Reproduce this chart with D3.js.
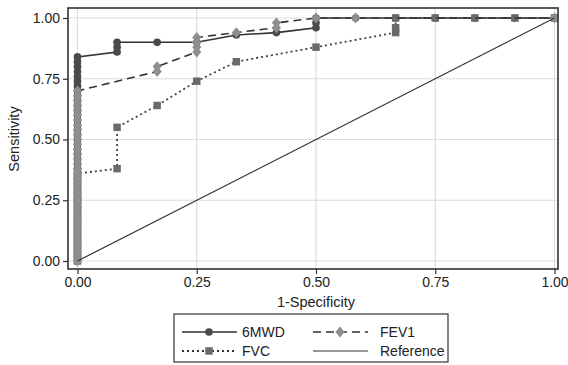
<!DOCTYPE html>
<html><head><meta charset="utf-8">
<script src="https://cdn.jsdelivr.net/npm/d3@7"></script>
<style>body{margin:0;background:#fff}svg{display:block}text{font-family:"Liberation Sans",Arial,sans-serif;fill:#222}</style>
</head><body><svg id="c" width="568" height="365"></svg>
<script>
const ticks = [0, 0.25, 0.5, 0.75, 1];
const tickLabels = ["0.00", "0.25", "0.50", "0.75", "1.00"];

const mwdX = [0,0,0,0,0,0,0,0,0,0,0,0,0,0,0,0,0,0,0,0,0,0,0,0,0,0,0,0,0,0,0,0,0,0,0,0,0,0,0,0,0,0,0,
  0.083,0.083,0.083,0.167,0.25,0.333,0.417,0.5,0.5,0.5,0.583,0.667,0.75,0.833,0.917,1];
const mwdY = [0,0.02,0.04,0.06,0.08,0.10,0.12,0.14,0.16,0.18,0.20,0.22,0.24,0.26,0.28,0.30,0.32,0.34,0.36,0.38,0.40,0.42,0.44,0.46,0.48,0.50,0.52,0.54,0.56,0.58,0.60,0.62,0.64,0.66,0.68,0.70,0.72,0.74,0.76,0.78,0.80,0.82,0.84,
  0.86,0.88,0.90,0.90,0.90,0.93,0.94,0.96,0.98,1,1,1,1,1,1,1];

const fevX = [0,0,0,0,0,0,0,0,0,0,0,0,0,0,0,0,0,0,0,0,0,0,0,0,0,0,0,0,0,0,0,0,0,0,0,0,
  0.167,0.167,0.25,0.25,0.25,0.25,0.333,0.417,0.417,0.5,0.583,1];
const fevY = [0,0.02,0.04,0.06,0.08,0.10,0.12,0.14,0.16,0.18,0.20,0.22,0.24,0.26,0.28,0.30,0.32,0.34,0.36,0.38,0.40,0.42,0.44,0.46,0.48,0.50,0.52,0.54,0.56,0.58,0.60,0.62,0.64,0.66,0.68,0.70,
  0.78,0.80,0.86,0.88,0.90,0.92,0.94,0.96,0.98,1,1,1];

const fvcX = [0,0,0,0,0,0,0,0,0,0,0,0,0,0,0,0,0,0,0,
  0.083,0.083,0.167,0.25,0.333,0.5,0.667,0.667,0.667,0.75,0.833,0.917,1];
const fvcY = [0,0.02,0.04,0.06,0.08,0.10,0.12,0.14,0.16,0.18,0.20,0.22,0.24,0.26,0.28,0.30,0.32,0.34,0.36,
  0.38,0.55,0.64,0.74,0.82,0.88,0.94,0.96,1,1,1,1,1];

const refX = [0, 1];
const refY = [0, 1];

const svg = d3.select("#c");
const x = d3.scaleLinear().domain([0, 1]).range([77.5, 554.5]);
const y = d3.scaleLinear().domain([0, 1]).range([261, 18]);
const frame = {l: 68, r: 558, t: 8, b: 269};

// grid
svg.append("g").selectAll("line").data(ticks).join("line")
  .attr("x1", d => x(d)).attr("x2", d => x(d)).attr("y1", frame.t).attr("y2", frame.b)
  .attr("stroke", "#dcdcdc").attr("stroke-width", 1.2);
svg.append("g").selectAll("line").data(ticks).join("line")
  .attr("x1", frame.l).attr("x2", frame.r).attr("y1", d => y(d)).attr("y2", d => y(d))
  .attr("stroke", "#dcdcdc").attr("stroke-width", 1.2);

// axes
const xAxis = d3.axisBottom(x).tickValues(ticks).tickFormat((d, i) => tickLabels[i]).tickSize(5).tickPadding(3);
const gx = svg.append("g").attr("transform", `translate(0,${frame.b})`).call(xAxis);
const yAxis = d3.axisLeft(y).tickValues(ticks).tickFormat((d, i) => tickLabels[i]).tickSize(5).tickPadding(3);
const gy = svg.append("g").attr("transform", `translate(${frame.l},0)`).call(yAxis);
[gx, gy].forEach(g => {
  g.select(".domain").remove();
  g.selectAll(".tick line").attr("stroke", "#333").attr("stroke-width", 1.2);
  g.selectAll(".tick text").attr("font-size", 14).attr("fill", "#222")
   .style("font-family", '"Liberation Sans",Arial,sans-serif');
});

// titles
svg.append("text").attr("x", 316).attr("y", 307).attr("text-anchor", "middle").attr("font-size", 14.5).text("1-Specificity");
svg.append("text").attr("transform", "translate(19,139) rotate(-90)").attr("text-anchor", "middle").attr("font-size", 14.5).text("Sensitivity");

const line = d3.line().x(d => x(d[0])).y(d => y(d[1]));
const zipP = (a, b) => a.map((v, i) => [v, b[i]]);
const mwd = zipP(mwdX, mwdY), fev = zipP(fevX, fevY), fvc = zipP(fvcX, fvcY), ref = zipP(refX, refY);

const sqSym = d3.symbol().type(d3.symbolSquare).size(56);
const diSym = d3.symbol().type(d3.symbolDiamond2).size(62);
const ciSym = d3.symbol().type(d3.symbolCircle).size(46);
const diScale = " scale(0.92,1.1)";

// 6MWD
svg.append("path").attr("d", line(mwd)).attr("fill", "none").attr("stroke", "#333").attr("stroke-width", 1.6);
svg.append("g").selectAll("path").data(mwd).join("path")
  .attr("transform", d => `translate(${x(d[0])},${y(d[1])})`).attr("d", ciSym).attr("fill", "#4a4a4a");

// FVC
svg.append("path").attr("d", line(fvc)).attr("fill", "none").attr("stroke", "#444").attr("stroke-width", 1.8).attr("stroke-dasharray", "2,3");
svg.append("g").selectAll("path").data(fvc).join("path")
  .attr("transform", d => `translate(${x(d[0])},${y(d[1])})`).attr("d", sqSym).attr("fill", "#6a6a6a");

// FEV1
svg.append("path").attr("d", line(fev)).attr("fill", "none").attr("stroke", "#333").attr("stroke-width", 1.6).attr("stroke-dasharray", "8,5");
svg.append("g").selectAll("path").data(fev).join("path")
  .attr("transform", d => `translate(${x(d[0])},${y(d[1])})` + diScale).attr("d", diSym).attr("fill", "#8e8e8e");

// reference
svg.append("path").attr("d", line(ref)).attr("fill", "none").attr("stroke", "#333").attr("stroke-width", 1.2);

// frame
svg.append("rect").attr("x", frame.l).attr("y", frame.t)
  .attr("width", frame.r - frame.l).attr("height", frame.b - frame.t)
  .attr("fill", "none").attr("stroke", "#333").attr("stroke-width", 1.6);

// legend
const lg = svg.append("g");
lg.append("rect").attr("x", 174).attr("y", 314).attr("width", 274).attr("height", 48)
  .attr("fill", "#fff").attr("stroke", "#333").attr("stroke-width", 1.2);
const legendItems = [
  {name: "6MWD", cx: 182, tx: 242, cy: 332, dash: null, sym: ciSym, fill: "#4a4a4a", sw: 1.6},
  {name: "FEV1", cx: 313, tx: 380, cy: 332, dash: "8,5", sym: diSym, fill: "#8e8e8e", sw: 1.6, diamond: true},
  {name: "FVC", cx: 182, tx: 242, cy: 351, dash: "2,3", sym: sqSym, fill: "#6a6a6a", sw: 1.8},
  {name: "Reference", cx: 313, tx: 380, cy: 351, dash: null, sym: null, fill: null, sw: 1.2}
];
legendItems.forEach(it => {
  lg.append("line").attr("x1", it.cx).attr("x2", it.cx + 55).attr("y1", it.cy).attr("y2", it.cy)
    .attr("stroke", "#333").attr("stroke-width", it.sw).attr("stroke-dasharray", it.dash);
  if (it.sym) lg.append("path").attr("d", it.sym)
    .attr("transform", `translate(${it.cx + 27},${it.cy})` + (it.diamond ? diScale : ""))
    .attr("fill", it.fill);
  lg.append("text").attr("x", it.tx).attr("y", it.cy + 5).attr("font-size", 14).text(it.name);
});
</script></body></html>
